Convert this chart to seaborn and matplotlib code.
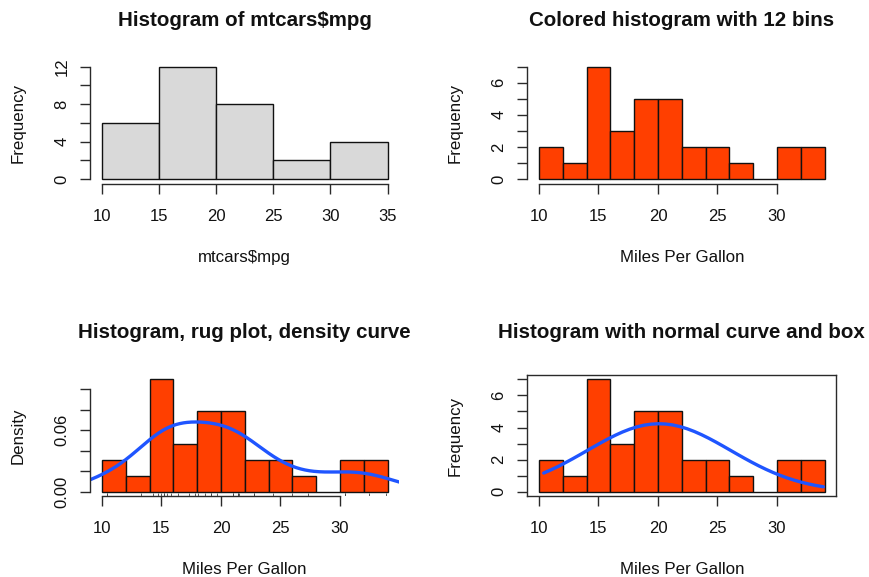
import numpy as np
import pandas as pd
import matplotlib
matplotlib.use("Agg")
import matplotlib.pyplot as plt
from matplotlib.ticker import FixedLocator, FixedFormatter
import seaborn as sns

# Miles per gallon of the 32 cars in the mtcars data set
mpg = [21.0, 21.0, 22.8, 21.4, 18.7, 18.1, 14.3, 24.4, 22.8, 19.2, 17.8,
       16.4, 17.3, 15.2, 10.4, 10.4, 14.7, 32.4, 30.4, 33.9, 21.5, 15.5,
       15.2, 13.3, 19.2, 27.3, 26.0, 30.4, 15.8, 19.7, 15.0, 21.4]

breaks_default = [10, 15, 20, 25, 30, 35]
breaks_12 = [10, 12, 14, 16, 18, 20, 22, 24, 26, 28, 30, 32, 34]

titles = ["Histogram of mtcars$mpg",
          "Colored histogram with 12 bins",
          "Histogram, rug plot, density curve",
          "Histogram with normal curve and box"]
xlabels = ["mtcars$mpg", "Miles Per Gallon", "Miles Per Gallon", "Miles Per Gallon"]
ylabels = ["Frequency", "Frequency", "Density", "Frequency"]

GRAY = "#D9D9D9"
RED = "#FF3F00"
BLUE = "#1F55FF"

sns.set_theme(style="white")
plt.rcParams["font.family"] = ["Liberation Sans", "DejaVu Sans"]

x = np.asarray(mpg)
n = len(x)


def r_hist(values, edges):
    """Right-closed bin counts, first bin includes its lower edge."""
    edges = np.asarray(edges, dtype=float)
    idx = np.searchsorted(edges, values, side="left")
    idx[idx == 0] = 1
    counts = np.bincount(idx - 1, minlength=len(edges) - 1)
    mids = (edges[:-1] + edges[1:]) / 2
    return mids, counts


W, H = 870, 577
fig = plt.figure(figsize=(W / 100, H / 100), dpi=100)

# plot regions in pixels: left, top, width, height
AW, AH = 308.5, 121.3
regions = [(90.5, 62.2), (527.5, 62.2), (90.5, 374.9), (527.5, 374.9)]
axes = []
for (l, t) in regions:
    axes.append(fig.add_axes([l / W, (H - t - AH) / H, AW / W, AH / H]))

TICK_FS = 12
LAB_FS = 12.2
TITLE_FS = 14.8


def r_axes(ax, xlim, ylim, xticks, yticks, ylabels_shown, box=False):
    ax.set_xlim(*xlim)
    ax.set_ylim(*ylim)
    for s in ax.spines.values():
        s.set_visible(box)
        s.set_color("#2a2a2a")
        s.set_linewidth(1.0)
    if not box:
        ax.spines["left"].set_visible(True)
        ax.spines["bottom"].set_visible(True)
        ax.spines["left"].set_bounds(yticks[0], yticks[-1])
        ax.spines["bottom"].set_bounds(xticks[0], xticks[-1])
    ax.xaxis.set_major_locator(FixedLocator(xticks))
    ax.xaxis.set_major_formatter(FixedFormatter([f"{t:g}" for t in xticks]))
    ax.yaxis.set_major_locator(FixedLocator(yticks))
    ax.yaxis.set_major_formatter(FixedFormatter(ylabels_shown))
    ax.tick_params(axis="both", which="major", direction="out", length=7.2,
                   width=1.0, color="#2a2a2a", labelsize=TICK_FS,
                   labelcolor="#111111", bottom=True, left=True)
    ax.tick_params(axis="x", pad=11)
    ax.tick_params(axis="y", pad=8)
    for lab in ax.get_yticklabels():
        lab.set_rotation(90)
        lab.set_va("center")
    ax.grid(False)
    ax.set_xlabel("")
    ax.set_ylabel("")


def labels(ax, title, xlabel, ylabel):
    ax.text(0.5, 1 + 42.0 / AH, title, transform=ax.transAxes, ha="center",
            va="center", fontsize=TITLE_FS, fontweight="bold", color="#111111")
    ax.text(0.5, -73.5 / AH, xlabel, transform=ax.transAxes, ha="center",
            va="center", fontsize=LAB_FS, color="#111111")
    ax.text(-72.5 / AW, 0.5, ylabel, transform=ax.transAxes, ha="center",
            va="center", rotation=90, fontsize=LAB_FS, color="#111111")


bar_kw = dict(edgecolor="#111111", linewidth=1.0, alpha=1.0)

# 1: default histogram
ax = axes[0]
mids, counts = r_hist(x, breaks_default)
sns.histplot(x=mids, weights=counts, bins=breaks_default, color=GRAY, ax=ax, **bar_kw)
r_axes(ax, (9, 36), (-0.48, 12.48), [10, 15, 20, 25, 30, 35],
       list(range(0, 13, 2)), ["0", "", "4", "", "8", "", "12"])
labels(ax, titles[0], xlabels[0], ylabels[0])

# 2: coloured histogram with 12 bins
ax = axes[1]
mids12, counts12 = r_hist(x, breaks_12)
sns.histplot(x=mids12, weights=counts12, bins=breaks_12, color=RED, ax=ax, **bar_kw)
r_axes(ax, (9.04, 34.96), (-0.28, 7.28), [10, 15, 20, 25, 30],
       list(range(0, 8)), ["0", "", "2", "", "4", "", "6", ""])
labels(ax, titles[1], xlabels[1], ylabels[1])

# 3: density histogram with rug and kernel density curve
ax = axes[2]
sns.histplot(x=mids12, weights=counts12, bins=breaks_12, stat="density",
             color=RED, ax=ax, **bar_kw)
sd = x.std(ddof=1)
q75, q25 = np.percentile(x, [75, 25])
bw = 0.9 * min(sd, (q75 - q25) / 1.34) * n ** (-0.2)
sns.kdeplot(x=x, bw_method=bw / sd, cut=3, gridsize=512, color=BLUE,
            linewidth=2.4, ax=ax)
sns.rugplot(x=x, height=0.03, color="#444444", linewidth=0.6, ax=ax)
dmax = counts12.max() / (n * 2)
r_axes(ax, (9.04, 34.96), (-0.04 * dmax, 1.04 * dmax), [10, 15, 20, 25, 30],
       [0, 0.02, 0.04, 0.06, 0.08, 0.10], ["0.00", "", "", "0.06", "", ""])
labels(ax, titles[2], xlabels[2], ylabels[2])

# 4: histogram with fitted normal curve and a box
ax = axes[3]
sns.histplot(x=mids12, weights=counts12, bins=breaks_12, color=RED, ax=ax, **bar_kw)
xfit = np.linspace(x.min(), x.max(), 40)
yfit = np.exp(-0.5 * ((xfit - x.mean()) / sd) ** 2) / (sd * np.sqrt(2 * np.pi))
yfit = yfit * (breaks_12[1] - breaks_12[0]) * n
sns.lineplot(x=xfit, y=yfit, color=BLUE, linewidth=2.4, ax=ax)
r_axes(ax, (9.04, 34.96), (-0.28, 7.28), [10, 15, 20, 25, 30],
       list(range(0, 8)), ["0", "", "2", "", "4", "", "6", ""], box=True)
labels(ax, titles[3], xlabels[3], ylabels[3])

fig.savefig("out.png", dpi=100, facecolor="white")
